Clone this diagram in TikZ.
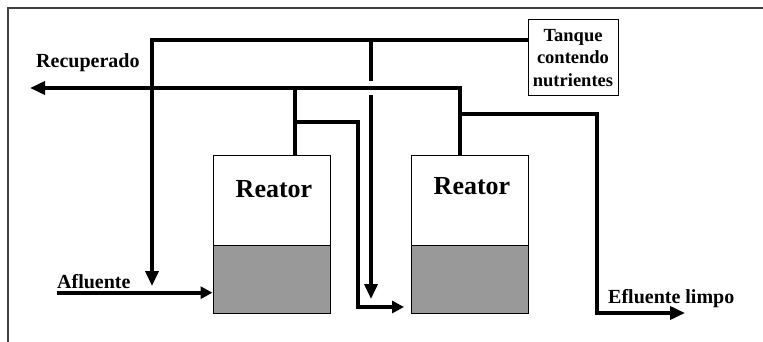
\documentclass[tikz,border=0pt]{standalone}
\usepackage{fontspec}
\setmainfont{Liberation Serif}
\usetikzlibrary{arrows.meta}
\definecolor{sludge}{HTML}{999999}
\begin{document}
\begin{tikzpicture}[x=1pt,y=-1pt,
  pipe/.style={line width=3.6pt},
  tipbig/.style={-{Triangle[length=15pt,width=13pt]}},
  tipsmall/.style={-{Triangle[length=12pt,width=12pt]}},
  vessel/.style={draw, line width=1pt, inner sep=0pt, minimum width=117pt},
  lbl/.style={font=\fontsize{20}{24}\selectfont\bfseries, inner sep=0pt},
  reatorlbl/.style={font=\fontsize{26}{30}\selectfont\bfseries, inner sep=0pt}]
\useasboundingbox (0,0) rectangle (763,342);
% frame
\draw[line width=2pt, black!75] (763,8.5) -- (8,8.5) -- (8,342);
% reactors
\node[vessel, fill=white, minimum height=89.3pt] (r1u) at (271.5,200.35) {};
\node[vessel, fill=sludge, minimum height=68pt] (r1l) at (271.5,279) {};
\node[vessel, fill=white, minimum height=89.3pt] (r2u) at (470,200.35) {};
\node[vessel, fill=sludge, minimum height=68pt] (r2l) at (470,279) {};
\node[reatorlbl, anchor=base] (t1) at (274,197) {Reator};
\node[reatorlbl, anchor=base] (t2) at (472,194) {Reator};
% tank
\node[draw, line width=1pt, minimum width=90pt, minimum height=76pt, inner sep=0pt,
      align=center, font=\fontsize{18.5}{22.5}\selectfont\bfseries] (tank) at (573,58)
      {Tanque\\contendo\\nutrientes};
% labels
\node[lbl, anchor=base west] (rec) at (36,68) {Recuperado};
\node[lbl, anchor=base west] (afl) at (57,288) {Afluente};
\node[lbl, anchor=base west] (efl) at (608,303) {Efluente limpo};
% coordinates
\coordinate (tkout) at (tank.west |- 0,40);
\coordinate (a1end) at (152,286);
\coordinate (recend) at (30,88);
\coordinate (r1out) at (295,155.7);
\coordinate (r2out) at (460,155.7);
\coordinate (j1) at (295,122);
\coordinate (j2) at (460,114);
\coordinate (d1) at (371,40);
\coordinate (d1a) at (371,81);
\coordinate (d1b) at (371,95);
\coordinate (d1end) at (371,299);
\coordinate (eflend) at (685,313);
\coordinate (aflstart) at (57,292.7);
% connectors
\draw[pipe, tipbig] (tkout) -| (a1end);
\draw[pipe] (d1) -- (d1a);
\draw[pipe, tipbig] (d1b) -- (d1end);
\draw[pipe, tipbig] (r2out) |- (recend);
\draw[pipe] (r1out) -- (r1out |- recend);
\draw[pipe, tipsmall] (j1) -| (358,307) -- ([xshift=-7pt]r2l.west |- 0,307);
\draw[pipe, tipbig] (j2) -| (597,313) -- (eflend);
\draw[pipe, tipsmall] (aflstart) -- (r1l.west |- aflstart);
\end{tikzpicture}
\end{document}
